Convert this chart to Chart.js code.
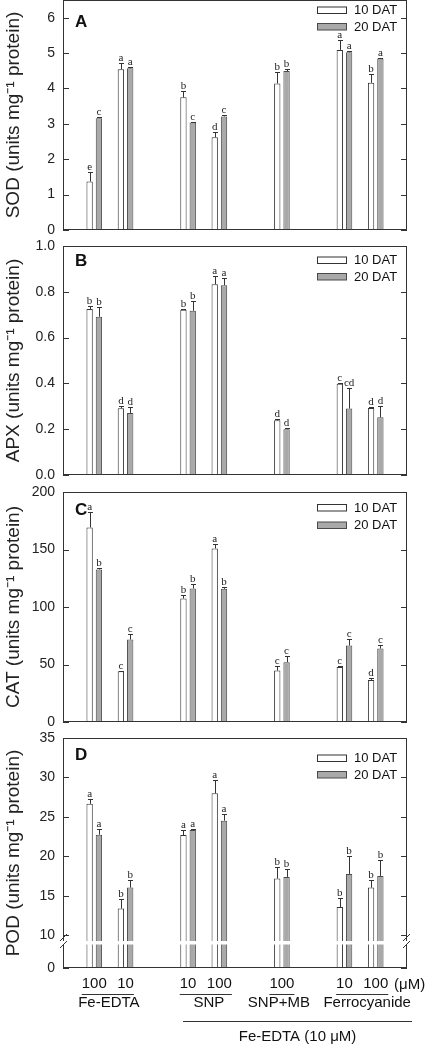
<!DOCTYPE html>
<html><head><meta charset="utf-8">
<script src="https://cdn.jsdelivr.net/npm/chart.js@4.4.0/dist/chart.umd.min.js"></script>
<style>
html,body{margin:0;padding:0;background:#fff;}
#wrap{position:relative;width:425px;height:1046px;overflow:hidden;background:#fff;}
canvas{position:absolute;left:0;}
</style></head><body><div id="wrap">
<canvas id="cA" width="425" height="240" style="top:0px"></canvas>
<canvas id="cB" width="425" height="249" style="top:236px"></canvas>
<canvas id="cC" width="425" height="250" style="top:482px"></canvas>
<canvas id="cD" width="425" height="318" style="top:728px"></canvas>
</div>
<script>
const FONT = "'Liberation Sans', Arial, Helvetica, sans-serif";
const SERIF = "'Liberation Serif', 'Times New Roman', serif";

// x categories (empty slots are gaps between treatment groups)
const categories = ['', '100', '10', '', '10', '100', '', '100', '', '10', '100', ''];
const seriesNames = ['10 DAT', '20 DAT'];
const groupNames = ['Fe-EDTA', 'SNP', 'SNP+MB', 'Ferrocyanide'];
const groupSlots = [[1, 2], [4, 5], [7, 7], [9, 10]];
const unitLabel = '(\u03bcM)';
const baseLabel = 'Fe-EDTA (10 \u03bcM)';

// SOD
const sod10    = [null, 1.37, 4.54, null, 3.75, 2.62, null, 4.14, null, 5.09, 4.16, null];
const sodErr10 = [null, 0.28, 0.17, null, 0.18, 0.14, null, 0.32, null, 0.29, 0.24, null];
const sodLet10 = [null, 'e', 'a', null, 'b', 'd', null, 'b', null, 'a', 'b', null];
const sod20    = [null, 3.16, 4.57, null, 3.04, 3.21, null, 4.49, null, 5.02, 4.85, null];
const sodErr20 = [null, 0.03, 0.05, null, 0.02, 0.03, null, 0.06, null, 0.05, 0.02, null];
const sodLet20 = [null, 'c', 'a', null, 'c', 'c', null, 'b', null, 'a', 'a', null];
const sodTicks = [0, 1, 2, 3, 4, 5, 6];

// APX
const apx10    = [null, 0.725, 0.291, null, 0.722, 0.833, null, 0.239, null, 0.399, 0.293, null];
const apxErr10 = [null, 0.012, 0.012, null, 0.003, 0.038, null, 0.006, null, 0.002, 0.004, null];
const apxLet10 = [null, 'b', 'd', null, 'b', 'a', null, 'd', null, 'c', 'd', null];
const apx20    = [null, 0.691, 0.271, null, 0.717, 0.829, null, 0.200, null, 0.290, 0.252, null];
const apxErr20 = [null, 0.044, 0.026, null, 0.042, 0.033, null, 0.006, null, 0.088, 0.049, null];
const apxLet20 = [null, 'b', 'd', null, 'b', 'a', null, 'd', null, 'cd', 'd', null];
const apxTicks = [0, 0.2, 0.4, 0.6, 0.8, 1.0];

// CAT
const cat10    = [null, 169.2, 44.1, null, 107.4, 150.9, null, 44.7, null, 47.9, 36.6, null];
const catErr10 = [null, 13, 0.6, null, 2.6, 4.3, null, 4.3, null, 1.2, 1.7, null];
const catLet10 = [null, 'a', 'c', null, 'b', 'a', null, 'c', null, 'c', 'd', null];
const cat20    = [null, 132.6, 71.7, null, 116.1, 115.8, null, 52.0, null, 66.5, 63.9, null];
const catErr20 = [null, 1.4, 4.9, null, 3.7, 2.0, null, 5.8, null, 6.0, 2.9, null];
const catLet20 = [null, 'b', 'c', null, 'b', 'b', null, 'c', null, 'c', 'c', null];
const catTicks = [0, 50, 100, 150, 200];

// POD (broken axis: bottom of axis labelled 0)
const pod10    = [null, 26.67, 13.4, null, 22.72, 27.99, null, 17.2, null, 13.6, 16.06, null];
const podErr10 = [null, 0.56, 1.18, null, 0.59, 1.64, null, 1.44, null, 1.2, 0.98, null];
const podLet10 = [null, 'a', 'b', null, 'a', 'a', null, 'b', null, 'b', 'b', null];
const pod20    = [null, 22.76, 16.06, null, 23.35, 24.53, null, 17.41, null, 17.79, 17.54, null];
const podErr20 = [null, 0.68, 0.93, null, 0.13, 0.88, null, 0.98, null, 2.28, 2.02, null];
const podLet20 = [null, 'a', 'b', null, 'a', 'a', null, 'b', null, 'b', 'b', null];
const podTicks = [10, 15, 20, 25, 30, 35];
const podAxisMin = 5.88;   // axis bottom (shown as "0" below the break)
const podBreakTicks = [podAxisMin].concat(podTicks);

const panels = [
  {id: 'cA', letter: 'A', title: 'SOD (units mg\u207b\u00b9 protein)', min: 0, max: 6.5, ticks: sodTicks, dec: 0,
   v: [sod10, sod20], e: [sodErr10, sodErr20], l: [sodLet10, sodLet20], pad: [0, 10], legY: [10, 26.5], letY: 27, bottom: false},
  {id: 'cB', letter: 'B', title: 'APX (units mg\u207b\u00b9 protein)', min: 0, max: 1.0, ticks: apxTicks, dec: 1,
   v: [apx10, apx20], e: [apxErr10, apxErr20], l: [apxLet10, apxLet20], pad: [10, 10], legY: [14, 30.5], letY: 20, bottom: false},
  {id: 'cC', letter: 'C', title: 'CAT (units mg\u207b\u00b9 protein)', min: 0, max: 200, ticks: catTicks, dec: 0,
   v: [cat10, cat20], e: [catErr10, catErr20], l: [catLet10, catLet20], pad: [10, 10], legY: [15.5, 33], letY: 23, bottom: false},
  {id: 'cD', letter: 'D', title: 'POD (units mg\u207b\u00b9 protein)', min: podAxisMin, max: 35, ticks: podBreakTicks, dec: 0,
   v: [pod10, pod20], e: [podErr10, podErr20], l: [podLet10, podLet20], pad: [10, 0], legY: [20, 36.5], letY: 22, bottom: true}
];

const fills = ['#ffffff', '#a9a9a9'];
const borders = ['#333333', '#4a4a4a'];
const nameShift = [1, 3, -3, 5];

const decor = {
  id: 'decor',
  afterDatasetsDraw(chart) {
    const ctx = chart.ctx, ys = chart.scales.y;
    ctx.save();
    chart.data.datasets.forEach((ds, di) => {
      const meta = chart.getDatasetMeta(di);
      ds.data.forEach((v, i) => {
        if (v == null) return;
        const bar = meta.data[i];
        const x = Math.round(bar.x) + 0.5;
        const yt = Math.round(ys.getPixelForValue(v + ds.errors[i])) + 0.5;
        ctx.strokeStyle = '#333'; ctx.lineWidth = 1;
        ctx.beginPath();
        ctx.moveTo(x, bar.y); ctx.lineTo(x, yt);
        ctx.moveTo(x - 2.5, yt); ctx.lineTo(x + 2.5, yt);
        ctx.stroke();
        ctx.fillStyle = '#222';
        ctx.font = '11px ' + SERIF;
        ctx.textAlign = 'center'; ctx.textBaseline = 'alphabetic';
        ctx.fillText(ds.letters[i], bar.x, yt - 3);
      });
    });
    ctx.restore();
  },
  afterDraw(chart) {
    const ctx = chart.ctx, ca = chart.chartArea, ys = chart.scales.y, xs = chart.scales.x;
    const p = chart.options.plugins.decor;
    ctx.save();
    // frame
    ctx.strokeStyle = '#333'; ctx.lineWidth = 1;
    ctx.strokeRect(ca.left + 0.5, ca.top + 0.5, ca.right - ca.left - 1, ca.bottom - ca.top - 1);
    // inward ticks
    ctx.beginPath();
    ys.ticks.forEach(t => {
      const y = Math.round(ys.getPixelForValue(t.value)) + 0.5;
      ctx.moveTo(ca.left, y); ctx.lineTo(ca.left + 6, y);
      ctx.moveTo(ca.right, y); ctx.lineTo(ca.right - 6, y);
    });
    ctx.stroke();
    // panel letter
    ctx.fillStyle = '#111';
    ctx.font = 'bold 17px ' + FONT;
    ctx.textAlign = 'left'; ctx.textBaseline = 'alphabetic';
    ctx.fillText(p.letter, ca.left + 12, ca.top + p.letY);
    // legend
    chart.data.datasets.forEach((ds, di) => {
      const cy = ca.top + p.legY[di];
      ctx.fillStyle = ds.backgroundColor;
      ctx.fillRect(317.5, cy - 3, 29, 6.5);
      ctx.strokeStyle = ds.borderColor;
      ctx.strokeRect(317.5, cy - 3, 29, 6.5);
      ctx.fillStyle = '#111';
      ctx.font = '13px ' + FONT;
      ctx.textBaseline = 'middle';
      ctx.fillText(ds.label, 354, cy + 0.5);
    });
    if (p.bottom) {
      // axis break
      const yb = 941 - 728;
      ctx.fillStyle = '#fff';
      ctx.fillRect(ca.left - 2, yb, ca.right - ca.left + 4, 3.5);
      ctx.strokeStyle = '#333';
      ctx.beginPath();
      [ca.left + 0.5, ca.right - 0.5].forEach(x => {
        ctx.moveTo(x - 3.5, yb); ctx.lineTo(x + 3.5, yb - 7);
        ctx.moveTo(x - 3.5, yb + 7); ctx.lineTo(x + 3.5, yb);
      });
      ctx.stroke();
      // group underlines and names
      const lineY = ca.bottom + 26.5;
      groupSlots.forEach((g, gi) => {
        ctx.font = '15px ' + FONT;
        const xl = xs.getPixelForValue(g[0]) - ctx.measureText(categories[g[0]]).width / 2;
        const xr = xs.getPixelForValue(g[1]) + ctx.measureText(categories[g[1]]).width / 2;
        ctx.strokeStyle = '#333';
        ctx.beginPath(); ctx.moveTo(xl, lineY); ctx.lineTo(xr, lineY); ctx.stroke();
        ctx.fillStyle = '#111';
        ctx.font = '15px ' + FONT;
        ctx.textAlign = 'center'; ctx.textBaseline = 'middle';
        ctx.fillText(groupNames[gi], (xl + xr) / 2 + nameShift[gi], ca.bottom + 35);
      });
      // unit label
      ctx.font = '15px ' + FONT;
      ctx.textAlign = 'left'; ctx.textBaseline = 'middle';
      ctx.fillText(unitLabel, 394, ca.bottom + 17);
      // long line
      const ly = ca.bottom + 53.5;
      ctx.beginPath(); ctx.moveTo(183, ly); ctx.lineTo(412, ly); ctx.stroke();
      ctx.font = '15px ' + FONT;
      ctx.textAlign = 'center';
      ctx.fillText(baseLabel, 297.5, ca.bottom + 68.5);
    }
    ctx.restore();
  }
};

panels.forEach(P => {
  const datasets = [0, 1].map(k => ({
    label: seriesNames[k],
    data: P.v[k],
    errors: P.e[k],
    letters: P.l[k],
    backgroundColor: fills[k],
    borderColor: borders[k],
    borderWidth: 1,
    base: P.min,
    categoryPercentage: 0.595,
    barPercentage: 0.68
  }));
  new Chart(document.getElementById(P.id), {
    type: 'bar',
    data: {labels: categories, datasets},
    plugins: [decor],
    options: {
      responsive: false,
      animation: false,
      devicePixelRatio: 1,
      layout: {padding: {left: 0, right: 18, top: P.pad[0], bottom: P.pad[1]}},
      plugins: {
        legend: {display: false},
        tooltip: {enabled: false},
        decor: {letter: P.letter, legY: P.legY, letY: P.letY, bottom: P.bottom}
      },
      scales: {
        x: {
          type: 'category',
          offset: false,
          display: P.bottom,
          grid: {display: false, drawTicks: false},
          border: {display: false},
          ticks: {autoSkip: false, maxRotation: 0, minRotation: 0, padding: 7,
                  font: {family: FONT, size: 15}, color: '#111'},
          afterFit: s => { if (P.bottom) s.height = 78; s.paddingLeft = 0; s.paddingRight = 0; }
        },
        y: {
          min: P.min, max: P.max,
          afterBuildTicks: s => { s.ticks = P.ticks.map(v => ({value: v})); },
          afterFit: s => { s.width = 63; s.paddingTop = 0; s.paddingBottom = 0; },
          grid: {display: false, drawTicks: false},
          border: {display: false},
          ticks: {padding: 8, font: {family: FONT, size: 14}, color: '#222',
                  callback: v => (v === podAxisMin && P.bottom) ? '0' : Number(v).toFixed(P.dec)},
          title: {display: true, text: P.title, font: {family: FONT, size: 19}, color: '#222',
                  padding: {top: 2, bottom: 0}}
        }
      }
    }
  });
});
</script>
</body></html>
